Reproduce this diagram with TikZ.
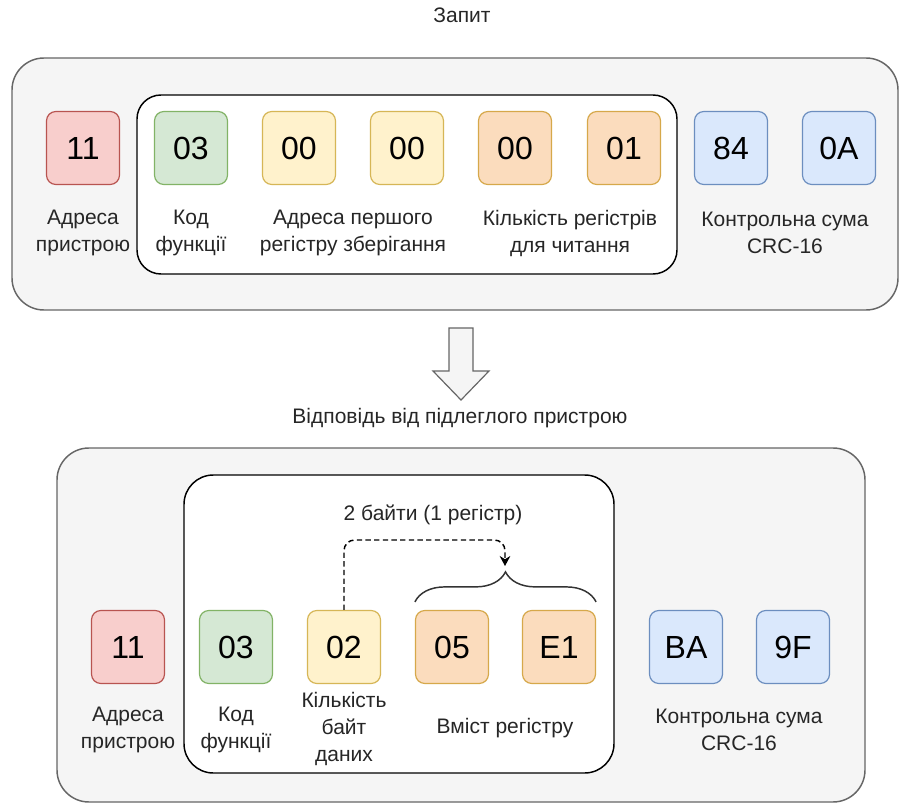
\documentclass[tikz,border=0pt]{standalone}
\usepackage{fontspec}
\setmainfont{Liberation Sans}
\usetikzlibrary{arrows.meta,positioning,decorations.pathreplacing}

\definecolor{redfill}{HTML}{F8CECC}   \definecolor{redline}{HTML}{B85450}
\definecolor{greenfill}{HTML}{D5E8D4} \definecolor{greenline}{HTML}{82B366}
\definecolor{yellowfill}{HTML}{FFF2CC}\definecolor{yellowline}{HTML}{D6B656}
\definecolor{orangefill}{HTML}{FBDCBD}\definecolor{orangeline}{HTML}{D6A84A}
\definecolor{bluefill}{HTML}{DAE8FC}  \definecolor{blueline}{HTML}{6C8EBF}
\definecolor{framefill}{HTML}{F5F5F5} \definecolor{frameline}{HTML}{666666}

\begin{document}
\begin{tikzpicture}[x=0.75pt, y=-0.75pt,
    byte/.style={rectangle, rounded corners=7pt, draw, line width=0.9pt,
        minimum size=54.75pt, inner sep=0pt, font=\fontsize{24}{28}\selectfont},
    redbyte/.style={byte, fill=redfill, draw=redline},
    greenbyte/.style={byte, fill=greenfill, draw=greenline},
    yellowbyte/.style={byte, fill=yellowfill, draw=yellowline},
    orangebyte/.style={byte, fill=orangefill, draw=orangeline},
    bluebyte/.style={byte, fill=bluefill, draw=blueline},
    lbl/.style={align=center, inner sep=0pt, text=black!85,
        font=\fontsize{15.75}{20.25}\selectfont},
    frame/.style={fill=framefill, draw=frameline, line width=1.1pt, rounded corners=24pt},
    group/.style={fill=white, draw=black, line width=1.1pt}]
    \useasboundingbox (0,0) rectangle (899,805);

    % Request
    \node[lbl] (reqtitle) at (462,15) {Запит};
    \draw[frame] (12,58) rectangle (898,310);
    \draw[group, rounded corners=18pt] (137,95) rectangle (677,274);

    \node[redbyte] (qaddr) at (83,148) {11};
    \node[greenbyte] (qfunc) at (191,148) {03};
    \node[yellowbyte] (qstarthi) at (299,148) {00};
    \node[yellowbyte] (qstartlo) at (407,148) {00};
    \node[orangebyte] (qnumhi) at (515,148) {00};
    \node[orangebyte] (qnumlo) at (624,148) {01};
    \node[bluebyte] (qcrclo) at (731,148) {84};
    \node[bluebyte] (qcrchi) at (839,148) {0A};

    \node[lbl] (qaddrlbl) at (83,233) {Адреса\\пристрою};
    \node[lbl] (qfunclbl) at (191,233) {Код\\функції};
    \node[lbl] (qstartlbl) at (353,233) {Адреса першого\\регістру зберігання};
    \node[lbl] (qnumlbl) at (570,233) {Кількість регістрів\\для читання};
    \node[lbl] (qcrclbl) at (785,233) {Контрольна сума\\CRC-16};

    % Down arrow between the frames
    \draw[fill=framefill, draw=frameline, line width=0.9pt, line join=miter]
        (449,328) -- (473,328) -- (473,371) -- (489,371) -- (461,400)
        -- (433,371) -- (449,371) -- cycle;

    % Response
    \node[lbl] (resptitle) at (460,418) {Відповідь від підлеглого пристрою};
    \draw[frame] (57,448) rectangle (865,802);
    \draw[group, rounded corners=22pt] (184,475) rectangle (614,773);

    \node[redbyte] (raddr) at (128,647) {11};
    \node[greenbyte] (rfunc) at (236,647) {03};
    \node[yellowbyte] (rlen) at (344,647) {02};
    \node[orangebyte] (rhi) at (452,647) {05};
    \node[orangebyte] (rlo) at (559,647) {E1};
    \node[bluebyte] (rcrclo) at (686,647) {BA};
    \node[bluebyte] (rcrchi) at (793,647) {9F};

    \node[lbl] (raddrlbl) at (128,730) {Адреса\\пристрою};
    \node[lbl] (rfunclbl) at (236,730) {Код\\функції};
    \node[lbl] (rlenlbl) at (344,729) {Кількість\\байт\\даних};
    \node[lbl] (rdatalbl) at (505,728) {Вміст регістру};
    \node[lbl] (rcrclbl) at (739,730) {Контрольна сума\\CRC-16};

    % Brace over the data bytes and the byte count pointer
    \node[lbl] (bytesnote) at (433,515) {2 байти (1 регістр)};
    \draw[draw=black!80, line width=1.1pt, decorate,
        decoration={brace, amplitude=22.5pt}]
        ([yshift=6pt]rhi.north west) -- ([yshift=6pt]rlo.north east);
    \coordinate (bend) at (505,540);
    \coordinate (brtip) at (505,566);
    \draw[dashed, dash pattern=on 4pt off 2.5pt, line width=1.1pt,
        rounded corners=8pt, -{Stealth[length=7.5pt,width=8pt]}]
        (rlen.north) |- (bend) -- (brtip);
\end{tikzpicture}
\end{document}
